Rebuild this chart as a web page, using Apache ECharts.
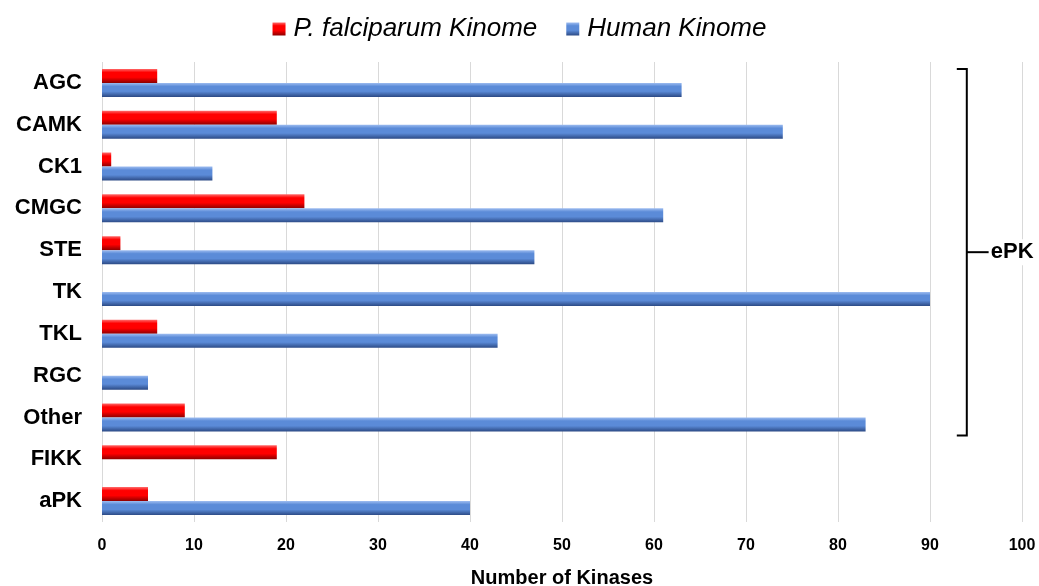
<!DOCTYPE html>
<html>
<head>
<meta charset="utf-8">
<title>Kinome comparison</title>
<script src="https://cdn.jsdelivr.net/npm/echarts@6/dist/echarts.min.js"></script>
<style>
  html, body { margin: 0; padding: 0; background: #fff; }
  #chart { width: 1039px; height: 586px; }
</style>
</head>
<body>
<div id="chart"></div>
<script>
// kinase groups, top to bottom
var groups = ['AGC', 'CAMK', 'CK1', 'CMGC', 'STE', 'TK', 'TKL', 'RGC', 'Other', 'FIKK', 'aPK']
var pfKinome = [6, 19, 1, 22, 2, 0, 6, 0, 9, 19, 5]
var humanKinome = [63, 74, 12, 61, 47, 90, 43, 5, 83, 0, 40]
var xTicks = [0, 10, 20, 30, 40, 50, 60, 70, 80, 90, 100]

var FONT = '"Liberation Sans", Arial, sans-serif'

function bevel(light, mid, dark) {
  return new echarts.graphic.LinearGradient(0, 0, 0, 1, [
    { offset: 0, color: light },
    { offset: 0.25, color: mid },
    { offset: 0.6, color: mid },
    { offset: 1, color: dark }
  ])
}

var chart = echarts.init(document.getElementById('chart'))

chart.setOption({
  animation: false,
  legend: {
    top: 11,
    left: 'center',
    itemWidth: 13,
    itemHeight: 13,
    itemGap: 29,
    icon: 'rect',
    textStyle: {
      fontFamily: FONT,
      fontSize: 26,
      fontStyle: 'italic',
      color: '#000',
      padding: [0, 0, 0, 3]
    }
  },
  grid: {
    left: 102,
    right: 17,
    top: 62,
    bottom: 64,
    outerBoundsMode: 'none',
    containLabel: false
  },
  xAxis: {
    type: 'value',
    min: xTicks[0],
    max: xTicks[xTicks.length - 1],
    interval: 10,
    name: 'Number of Kinases',
    nameLocation: 'middle',
    nameGap: 46,
    nameTextStyle: {
      fontFamily: FONT,
      fontSize: 20,
      fontWeight: 'bold',
      color: '#000'
    },
    axisLine: { show: false },
    axisTick: { show: false },
    axisLabel: {
      margin: 16,
      fontFamily: FONT,
      fontSize: 16,
      fontWeight: 'bold',
      color: '#000'
    },
    splitLine: {
      lineStyle: { color: '#d9d9d9', width: 1 }
    }
  },
  yAxis: {
    type: 'category',
    data: groups,
    inverse: true,
    axisLine: { show: false },
    axisTick: { show: false },
    axisLabel: {
      margin: 20,
      fontFamily: FONT,
      fontSize: 22,
      fontWeight: 'bold',
      color: '#000'
    }
  },
  series: [
    {
      name: 'P. falciparum Kinome',
      type: 'bar',
      data: pfKinome,
      barWidth: 14,
      barGap: '0%',
      itemStyle: {
        color: bevel('#ff6a6a', '#ff0000', '#8c0000'),
        borderWidth: 0
      }
    },
    {
      name: 'Human Kinome',
      type: 'bar',
      data: humanKinome,
      barWidth: 14,
      barGap: '0%',
      itemStyle: {
        color: bevel('#9dbcf0', '#5b8bd8', '#2c4a85'),
        borderWidth: 0
      }
    }
  ]
})

// ePK bracket spanning AGC..Other, placed via the chart's own scales
function drawBracket() {
  var xPos = chart.convertToPixel({ gridIndex: 0 }, [94, 'AGC'])[0]
  var yTop = chart.convertToPixel({ gridIndex: 0 }, [94, 'AGC'])[1] - 14
  var yBot = chart.convertToPixel({ gridIndex: 0 }, [94, 'Other'])[1] + 18
  var yMid = (yTop + yBot) / 2
  chart.setOption({
    graphic: [
      {
        type: 'polyline',
        shape: { points: [[xPos - 10, yTop], [xPos, yTop], [xPos, yBot], [xPos - 10, yBot]] },
        style: { stroke: '#000', lineWidth: 2, fill: null }
      },
      {
        type: 'line',
        shape: { x1: xPos, y1: yMid, x2: xPos + 22, y2: yMid },
        style: { stroke: '#000', lineWidth: 2 }
      },
      {
        type: 'text',
        x: xPos + 22,
        y: yMid,
        style: {
          text: 'ePK',
          fontFamily: FONT,
          fontSize: 22,
          fontWeight: 'bold',
          fill: '#000',
          backgroundColor: '#fff',
          padding: [2, 2],
          verticalAlign: 'middle'
        }
      }
    ]
  })
}
drawBracket()
</script>
</body>
</html>
